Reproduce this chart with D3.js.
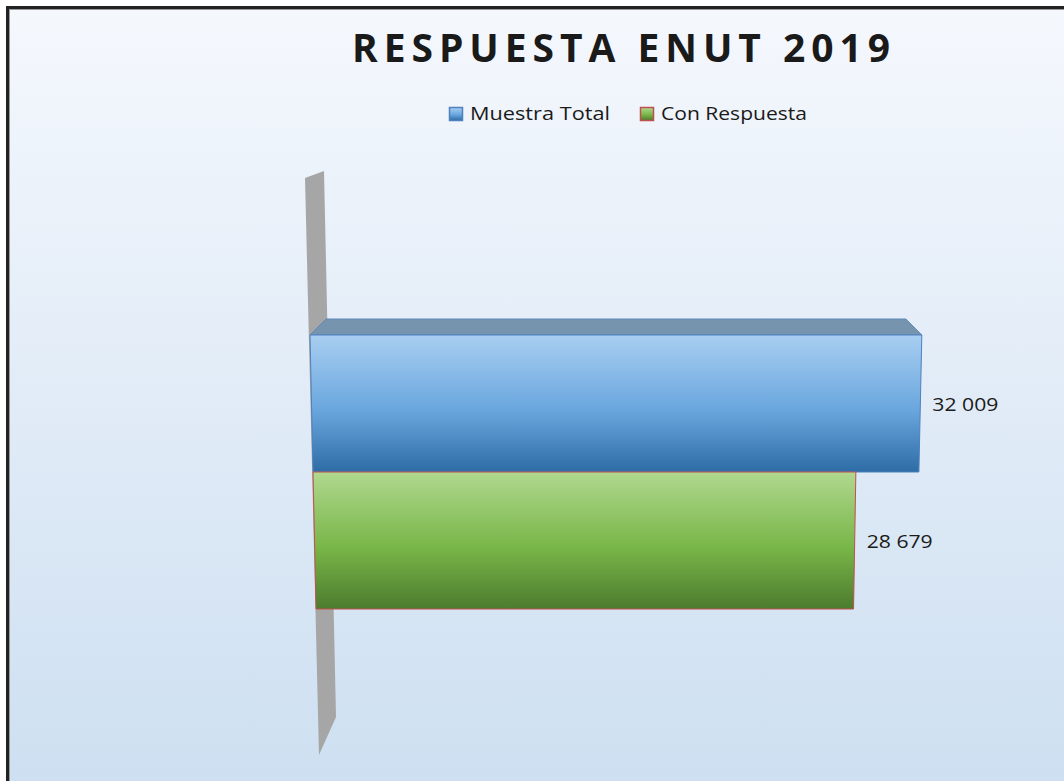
<!DOCTYPE html>
<html><head><meta charset="utf-8">
<script src="https://cdn.jsdelivr.net/npm/d3@7"></script>
<style>html,body{margin:0;padding:0;background:#fff;overflow:hidden}</style>
</head><body>
<div id="chart"></div>
<script>
const title = "RESPUESTA ENUT 2019";
const seriesNames = ["Muestra Total", "Con Respuesta"];
const seriesValues = [32009, 28679];
const valueLabels = ["32 009", "28 679"];
const seriesTop = ["#a8cef1", "#b0d88f"];
const seriesMid = ["#69a6de", "#79b648"];
const seriesBottom = ["#2e6ca6", "#4c7b2e"];
const seriesStroke = ["#4f81bd", "#c0504d"];

const W = 1064, H = 781;
const svg = d3.select("#chart").append("svg").attr("width", W).attr("height", H);
const defs = svg.append("defs");

const bg = defs.append("linearGradient").attr("id", "bg").attr("x1", 0).attr("y1", 0).attr("x2", 0).attr("y2", 1);
bg.append("stop").attr("offset", 0).attr("stop-color", "#f5f8fd");
bg.append("stop").attr("offset", 1).attr("stop-color", "#cddff1");
svg.append("rect").attr("x", 8).attr("y", 8).attr("width", W).attr("height", H).attr("fill", "url(#bg)");
svg.append("rect").attr("x", 7.5).attr("y", 7.5).attr("width", W + 10).attr("height", H + 10)
  .attr("fill", "none").attr("stroke", "#222").attr("stroke-width", 3);
svg.append("rect").attr("x", 9.5).attr("y", 9.5).attr("width", W + 10).attr("height", H + 10)
  .attr("fill", "none").attr("stroke", "#9a9a9a").attr("stroke-width", 1);

seriesNames.forEach((n, i) => {
  const g = defs.append("linearGradient").attr("id", "g" + i).attr("x1", 0).attr("y1", 0).attr("x2", 0).attr("y2", 1);
  g.append("stop").attr("offset", 0).attr("stop-color", seriesTop[i]);
  g.append("stop").attr("offset", 0.55).attr("stop-color", seriesMid[i]);
  g.append("stop").attr("offset", 1).attr("stop-color", seriesBottom[i]);
});

// Title
svg.append("text").attr("x", 352).attr("y", 62).text(title)
  .attr("font-family", "'Open Sans', sans-serif").attr("font-weight", 700).attr("font-size", 39)
  .attr("fill", "#1a1a1a").attr("textLength", 538).attr("lengthAdjust", "spacing");

// Legend
const legX = [449, 640], legTX = [470, 661], legW = [140, 146];
seriesNames.forEach((n, i) => {
  svg.append("rect").attr("x", legX[i] + 0.5).attr("y", 107.5).attr("width", 13).attr("height", 13)
    .attr("fill", "url(#g" + i + ")").attr("stroke", seriesStroke[i]).attr("stroke-width", 1.5);
  svg.append("text").attr("x", legTX[i]).attr("y", 120).text(n)
    .attr("font-family", "'Open Sans', sans-serif").attr("font-size", 19).attr("fill", "#1a1a1a")
    .attr("textLength", legW[i]).attr("lengthAdjust", "spacingAndGlyphs");
});

// Perspective helpers
const y = d3.scaleBand().domain(seriesNames).range([335, 609]).paddingInner(0);
const x = d3.scaleLinear().domain([0, 35000]).range([0, 669]);
const left = yy => 310 + 0.022 * (yy - 335);
const k = yy => 1 - 0.000071 * (yy - 335);
const px = (v, yy) => left(yy) + x(v) * k(yy);

// Back wall (vertical axis plane)
svg.append("path")
  .attr("d", "M305,178 L324,171 L336,717 L319,755 Z")
  .attr("fill", "#a6a6a6");

// Bars
seriesNames.forEach((n, i) => {
  const y0 = y(n), y1 = y0 + y.bandwidth();
  const v = seriesValues[i];
  if (i === 0) {
    const depth = 16;
    svg.append("path")
      .attr("d", `M${px(0, y0)},${y0} L${px(0, y0) + depth},${y0 - depth} L${px(v, y0) - depth},${y0 - depth} L${px(v, y0)},${y0} Z`)
      .attr("fill", "#7794ae").attr("stroke", "#5f86b8").attr("stroke-width", 1);
  }
  svg.append("path")
    .attr("d", `M${px(0, y0)},${y0} L${px(v, y0)},${y0} L${px(v, y1)},${y1} L${px(0, y1)},${y1} Z`)
    .attr("fill", "url(#g" + i + ")").attr("stroke", seriesStroke[i]).attr("stroke-width", 1);
  svg.append("text").attr("x", px(v, (y0 + y1) / 2) + 12).attr("y", (y0 + y1) / 2 + 7)
    .text(valueLabels[i]).attr("font-family", "'Open Sans', sans-serif").attr("font-size", 19)
    .attr("fill", "#1a1a1a").attr("textLength", 66).attr("lengthAdjust", "spacingAndGlyphs");
});
</script>
</body></html>
